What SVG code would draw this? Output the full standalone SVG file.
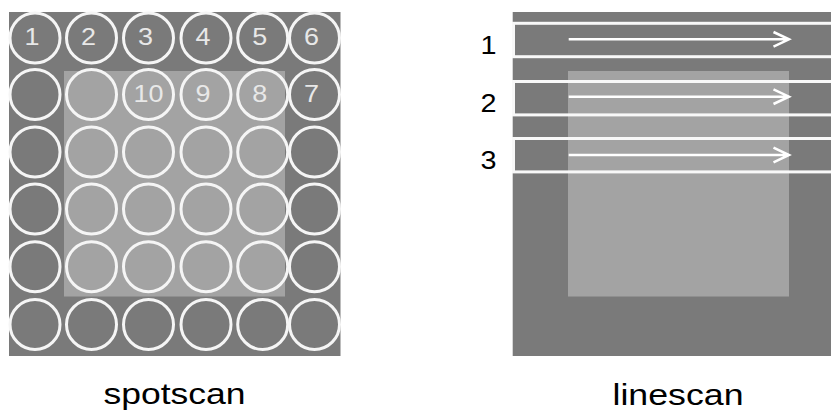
<svg xmlns="http://www.w3.org/2000/svg" width="831" height="412" viewBox="0 0 831 412">
<style>
.dark{fill:#7a7a7a}
.light{fill:#a3a3a3}
.spot{fill:none;stroke:#f5f5f5;stroke-width:3}
.num{font-family:"Liberation Sans",Arial,sans-serif;font-size:23px;fill:#e8e8e8;text-anchor:middle}
.scan{fill:none;stroke:#f8f8f8;stroke-width:3}
.arr{fill:none;stroke:#ffffff;stroke-width:2.5}
.lbl{font-family:"Liberation Sans",Arial,sans-serif;fill:#000;text-anchor:middle}
</style>
<rect width="831" height="412" fill="#ffffff"/>
<g id="spotscan">
<rect class="dark" x="9" y="12" width="331.5" height="344"/>
<rect class="light" x="64" y="71" width="221" height="225.5"/>
<g id="spots">
<circle class="spot" cx="35" cy="38" r="25"/><circle class="spot" cx="91.5" cy="38" r="25"/><circle class="spot" cx="148.5" cy="38" r="25"/><circle class="spot" cx="206" cy="38" r="25"/><circle class="spot" cx="262.7" cy="38" r="25"/><circle class="spot" cx="314.5" cy="38" r="25"/>
<circle class="spot" cx="35" cy="94.5" r="25"/><circle class="spot" cx="91.5" cy="94.5" r="25"/><circle class="spot" cx="148.5" cy="94.5" r="25"/><circle class="spot" cx="206" cy="94.5" r="25"/><circle class="spot" cx="262.7" cy="94.5" r="25"/><circle class="spot" cx="314.5" cy="94.5" r="25"/>
<circle class="spot" cx="35" cy="152" r="25"/><circle class="spot" cx="91.5" cy="152" r="25"/><circle class="spot" cx="148.5" cy="152" r="25"/><circle class="spot" cx="206" cy="152" r="25"/><circle class="spot" cx="262.7" cy="152" r="25"/><circle class="spot" cx="314.5" cy="152" r="25"/>
<circle class="spot" cx="35" cy="209" r="25"/><circle class="spot" cx="91.5" cy="209" r="25"/><circle class="spot" cx="148.5" cy="209" r="25"/><circle class="spot" cx="206" cy="209" r="25"/><circle class="spot" cx="262.7" cy="209" r="25"/><circle class="spot" cx="314.5" cy="209" r="25"/>
<circle class="spot" cx="35" cy="266.7" r="25"/><circle class="spot" cx="91.5" cy="266.7" r="25"/><circle class="spot" cx="148.5" cy="266.7" r="25"/><circle class="spot" cx="206" cy="266.7" r="25"/><circle class="spot" cx="262.7" cy="266.7" r="25"/><circle class="spot" cx="314.5" cy="266.7" r="25"/>
<circle class="spot" cx="35" cy="324.5" r="25"/><circle class="spot" cx="91.5" cy="324.5" r="25"/><circle class="spot" cx="148.5" cy="324.5" r="25"/><circle class="spot" cx="206" cy="324.5" r="25"/><circle class="spot" cx="262.7" cy="324.5" r="25"/><circle class="spot" cx="314.5" cy="324.5" r="25"/>
</g>
<g id="spot-numbers">
<text class="num" x="32" y="45" textLength="15" lengthAdjust="spacingAndGlyphs">1</text>
<text class="num" x="88.5" y="45" textLength="15" lengthAdjust="spacingAndGlyphs">2</text>
<text class="num" x="145.5" y="45" textLength="15" lengthAdjust="spacingAndGlyphs">3</text>
<text class="num" x="203" y="45" textLength="15" lengthAdjust="spacingAndGlyphs">4</text>
<text class="num" x="259.7" y="45" textLength="15" lengthAdjust="spacingAndGlyphs">5</text>
<text class="num" x="311.5" y="45" textLength="15" lengthAdjust="spacingAndGlyphs">6</text>
<text class="num" x="311.5" y="102" textLength="15" lengthAdjust="spacingAndGlyphs">7</text>
<text class="num" x="259.7" y="102" textLength="15" lengthAdjust="spacingAndGlyphs">8</text>
<text class="num" x="203" y="102" textLength="15" lengthAdjust="spacingAndGlyphs">9</text>
<text class="num" x="148.5" y="102" textLength="30" lengthAdjust="spacingAndGlyphs">10</text>
</g>
<text class="lbl" x="174.5" y="404" font-size="30" textLength="142" lengthAdjust="spacingAndGlyphs">spotscan</text>
</g>
<g id="linescan">
<rect class="dark" x="512.7" y="12" width="330" height="344"/>
<rect class="light" x="568" y="71" width="221" height="225.5"/>
<g id="scanlines">
<rect class="scan" x="513.5" y="23.3" width="330" height="33.4"/>
<rect class="scan" x="513.5" y="81.5" width="330" height="33.4"/>
<rect class="scan" x="513.5" y="138.5" width="330" height="33.4"/>
</g>
<g id="connectors">
<path class="arr" d="M568.7 39.3H789M773.5 32L789 39.3L773.5 46.6"/>
<path class="arr" d="M568.7 96.7H789M773.5 89.4L789 96.7L773.5 104"/>
<path class="arr" d="M568.7 155H789M773.5 147.7L789 155L773.5 162.3"/>
</g>
<text class="lbl" x="488.5" y="54" font-size="25" textLength="16" lengthAdjust="spacingAndGlyphs">1</text>
<text class="lbl" x="488.5" y="111.5" font-size="25" textLength="16" lengthAdjust="spacingAndGlyphs">2</text>
<text class="lbl" x="488.5" y="168.5" font-size="25" textLength="16" lengthAdjust="spacingAndGlyphs">3</text>
<text class="lbl" x="678" y="405" font-size="30" textLength="131" lengthAdjust="spacingAndGlyphs">linescan</text>
</g>
</svg>
